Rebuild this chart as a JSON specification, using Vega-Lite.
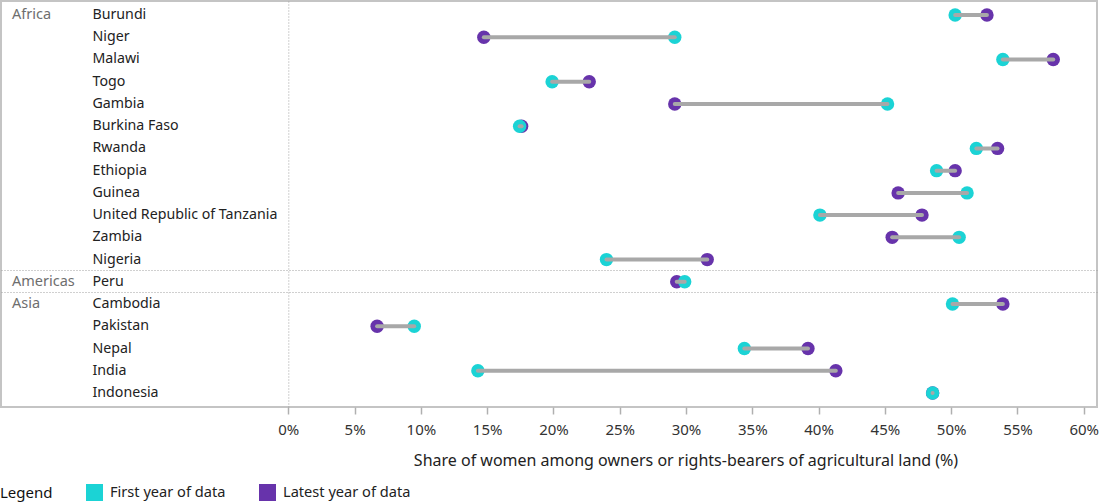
{
  "$schema": "https://vega.github.io/schema/vega-lite/v6.json",
  "autosize": {"type": "none"},
  "padding": {"left": 1, "top": 1, "right": 3, "bottom": 95},
  "width": 1096,
  "height": 406,
  "config": {
    "font": "Noto Sans",
    "view": {"stroke": "#c4c4c4", "strokeWidth": 2}
  },
  "data": {
    "values": [
      {"region": "Africa", "country": "Burundi", "first": 50.3, "latest": 52.7},
      {"region": "Africa", "country": "Niger", "first": 29.15, "latest": 14.75},
      {"region": "Africa", "country": "Malawi", "first": 53.9, "latest": 57.7},
      {"region": "Africa", "country": "Togo", "first": 19.9, "latest": 22.7},
      {"region": "Africa", "country": "Gambia", "first": 45.2, "latest": 29.15},
      {"region": "Africa", "country": "Burkina Faso", "first": 17.45, "latest": 17.6},
      {"region": "Africa", "country": "Rwanda", "first": 51.9, "latest": 53.5},
      {"region": "Africa", "country": "Ethiopia", "first": 48.9, "latest": 50.3},
      {"region": "Africa", "country": "Guinea", "first": 51.2, "latest": 46.0},
      {"region": "Africa", "country": "United Republic of Tanzania", "first": 40.1, "latest": 47.8},
      {"region": "Africa", "country": "Zambia", "first": 50.6, "latest": 45.55},
      {"region": "Africa", "country": "Nigeria", "first": 24.0, "latest": 31.6},
      {"region": "Americas", "country": "Peru", "first": 29.9, "latest": 29.3},
      {"region": "Asia", "country": "Cambodia", "first": 50.1, "latest": 53.9},
      {"region": "Asia", "country": "Pakistan", "first": 9.5, "latest": 6.7},
      {"region": "Asia", "country": "Nepal", "first": 34.4, "latest": 39.2},
      {"region": "Asia", "country": "India", "first": 14.3, "latest": 41.3},
      {"region": "Asia", "country": "Indonesia", "first": 48.6, "latest": 48.6}
    ]
  },
  "encoding": {
    "y": {
      "field": "country",
      "type": "nominal",
      "sort": null,
      "scale": {"paddingInner": 0, "paddingOuter": 0.13},
      "axis": {
        "title": null,
        "orient": "left",
        "offset": -287.3,
        "domain": true,
        "domainColor": "#a0a0a0",
        "domainDash": [1, 2],
        "domainWidth": 1,
        "ticks": false,
        "labelAlign": "left",
        "labelPadding": 196.3,
        "labelLimit": 0,
        "labelFontSize": 14.2,
        "labelColor": "#222222",
        "grid": true,
        "bandPosition": 1,
        "gridColor": "#a0a0a0",
        "gridDash": [1, 2],
        "gridWidth": 1,
        "gridOpacity": {"condition": {"test": "datum.value === 'Nigeria' || datum.value === 'Peru'", "value": 1}, "value": 0}
      }
    }
  },
  "layer": [
    {
      "mark": {"type": "point", "filled": true, "shape": "circle", "size": 180, "opacity": 1, "strokeWidth": 0},
      "encoding": {
        "x": {
          "field": "latest",
          "type": "quantitative",
          "scale": {"domain": [-21.67, 61], "nice": false, "zero": false},
          "axis": {
            "values": [0, 5, 10, 15, 20, 25, 30, 35, 40, 45, 50, 55, 60],
            "labelExpr": "datum.value + '%'",
            "domain": false,
            "grid": false,
            "ticks": true,
            "tickSize": 7,
            "tickColor": "#b0b0b0",
            "tickWidth": 1.5,
            "labelFontSize": 15,
            "labelColor": "#333333",
            "labelPadding": 8,
            "title": "Share of women among owners or rights-bearers of agricultural land (%)",
            "titleFontSize": 16,
            "titleFontWeight": "normal",
            "titleColor": "#222222",
            "titleX": 684.5,
            "titlePadding": 15
          }
        },
        "color": {
          "datum": "Latest year of data",
          "type": "nominal",
          "scale": {"domain": ["First year of data", "Latest year of data"], "range": ["#1bd3d5", "#6733ab"]},
          "legend": {
            "orient": "none",
            "legendX": -1,
            "legendY": 483,
            "direction": "horizontal",
            "title": "Legend",
            "titleOrient": "left",
            "titleFontSize": 15,
            "titleFontWeight": "normal",
            "titleColor": "#111111",
            "titlePadding": 33,
            "symbolType": "square",
            "symbolSize": 289,
            "symbolStrokeWidth": 0,
            "symbolOpacity": 1,
            "labelFontSize": 14.6,
            "labelColor": "#222222",
            "labelOffset": 7,
            "columnPadding": 33
          }
        }
      }
    },
    {
      "mark": {"type": "point", "filled": true, "shape": "circle", "size": 180, "opacity": 1, "strokeWidth": 0},
      "encoding": {
        "x": {"field": "first", "type": "quantitative"},
        "color": {"datum": "First year of data", "type": "nominal"}
      }
    },
    {
      "mark": {"type": "rule", "color": "#a8a8a8", "strokeWidth": 4, "strokeCap": "round"},
      "encoding": {
        "x": {"field": "first", "type": "quantitative"},
        "x2": {"field": "latest"}
      }
    },
    {
      "transform": [
        {"window": [{"op": "row_number", "as": "rank"}], "groupby": ["region"]},
        {"filter": "datum.rank === 1"}
      ],
      "mark": {"type": "text", "align": "left", "baseline": "middle", "fontSize": 14.5, "color": "#6e6e6e"},
      "encoding": {
        "x": {"datum": -20.84, "type": "quantitative"},
        "text": {"field": "region", "type": "nominal"}
      }
    }
  ]
}
